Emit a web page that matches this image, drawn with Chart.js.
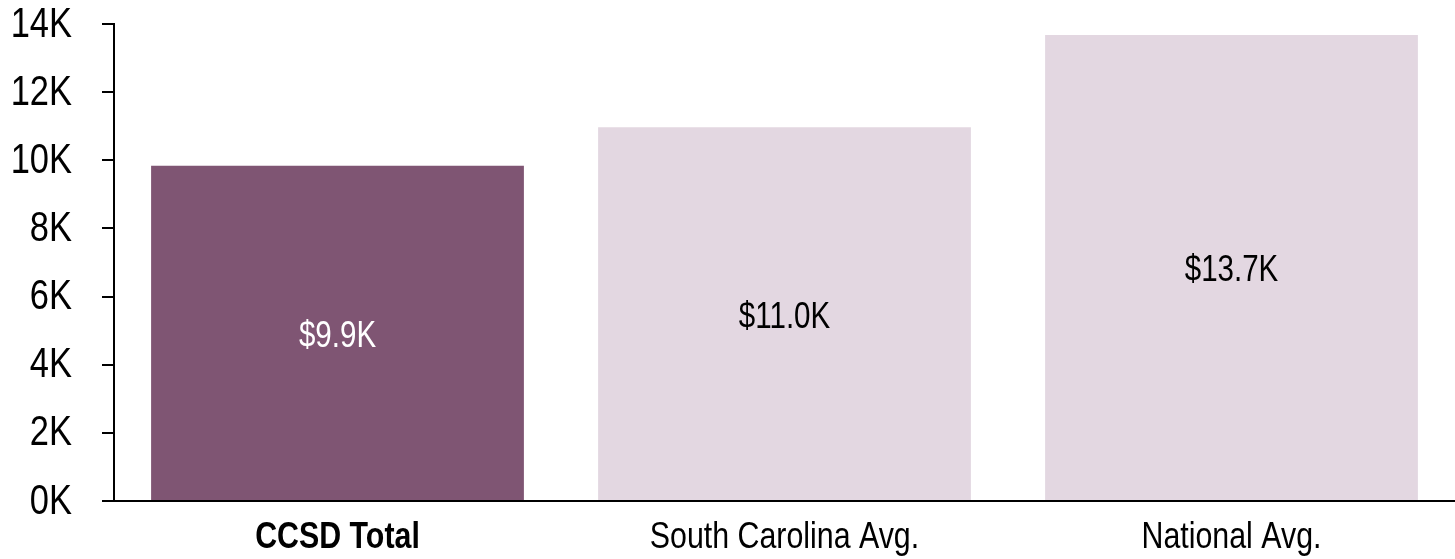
<!DOCTYPE html>
<html>
<head>
<meta charset="utf-8">
<script src="https://cdn.jsdelivr.net/npm/chart.js@4.4.1/dist/chart.umd.min.js"></script>
<style>
  html, body { margin: 0; padding: 0; background: #fff; }
  #wrap { width: 1455px; height: 559px; position: relative; }
</style>
</head>
<body>
<div id="wrap"><canvas id="spendChart"></canvas></div>
<script>
// per-pupil spending, in dollars
const categories = ["CCSD Total", "South Carolina Avg.", "National Avg."];
const spending = [9840, 10970, 13680];
const valueLabels = ["$9.9K", "$11.0K", "$13.7K"];
const yTicks = [0, 2000, 4000, 6000, 8000, 10000, 12000, 14000];

const barColors = ["#7f5573", "#e3d7e1", "#e3d7e1"];
const labelColors = ["#ffffff", "#000000", "#000000"];
// no narrow face installed, so the text gets squeezed sideways when drawn
const fontFamily = "'Liberation Sans', Arial, sans-serif";
const squeeze = 0.82;

function narrowText(ctx, text, x, y) {
    ctx.save();
    ctx.translate(x, y);
    ctx.scale(squeeze, 1);
    ctx.fillText(text, 0, 0);
    ctx.restore();
}

// axis labels and the value text in the middle of each bar
const textLayer = {
    id: 'textLayer',
    afterDraw(chart) {
        const ctx = chart.ctx;
        const xs = chart.scales.x;
        const ys = chart.scales.y;
        ctx.save();
        ctx.textBaseline = "middle";

        ctx.textAlign = "right";
        ctx.fillStyle = "#000";
        ctx.font = "42px " + fontFamily;
        yTicks.forEach(v => {
            narrowText(ctx, (v / 1000) + "K", 72, ys.getPixelForValue(v) + 1);
        });

        ctx.textAlign = "center";
        categories.forEach((c, i) => {
            ctx.font = (i === 0 ? "bold " : "") + "37px " + fontFamily;
            narrowText(ctx, c, xs.getPixelForValue(i), xs.bottom - 21);
        });

        ctx.font = "36px " + fontFamily;
        chart.getDatasetMeta(0).data.forEach((bar, i) => {
            ctx.fillStyle = labelColors[i];
            narrowText(ctx, valueLabels[i], bar.x, (bar.y + bar.base) / 2 + 4);
        });
        ctx.restore();
    }
};

const ctx = document.getElementById("spendChart").getContext("2d");
new Chart(ctx, {
    type: "bar",
    data: {
        labels: categories,
        datasets: [{
            data: spending,
            backgroundColor: barColors,
            borderWidth: 0,
            categoryPercentage: 1,
            barPercentage: 0.834
        }]
    },
    options: {
        responsive: true,
        maintainAspectRatio: false,
        animation: false,
        layout: {
            padding: { top: 24, right: 0, left: 0, bottom: 0 }
        },
        plugins: {
            legend: { display: false },
            tooltip: { enabled: false }
        },
        scales: {
            x: {
                grid: { display: false },
                border: { display: true, color: "#000", width: 2 },
                ticks: { display: false },
                afterFit(scale) { scale.height = 58; }
            },
            y: {
                min: 0,
                max: 14000,
                afterBuildTicks(scale) {
                    scale.ticks = yTicks.map(v => ({ value: v }));
                },
                grid: {
                    display: true,
                    drawOnChartArea: false,
                    drawTicks: true,
                    tickLength: 12,
                    color: "#000",
                    lineWidth: 2
                },
                border: { display: true, color: "#000", width: 2 },
                ticks: { display: false },
                afterFit(scale) { scale.width = 114; }
            }
        }
    },
    plugins: [textLayer]
});
</script>
</body>
</html>
